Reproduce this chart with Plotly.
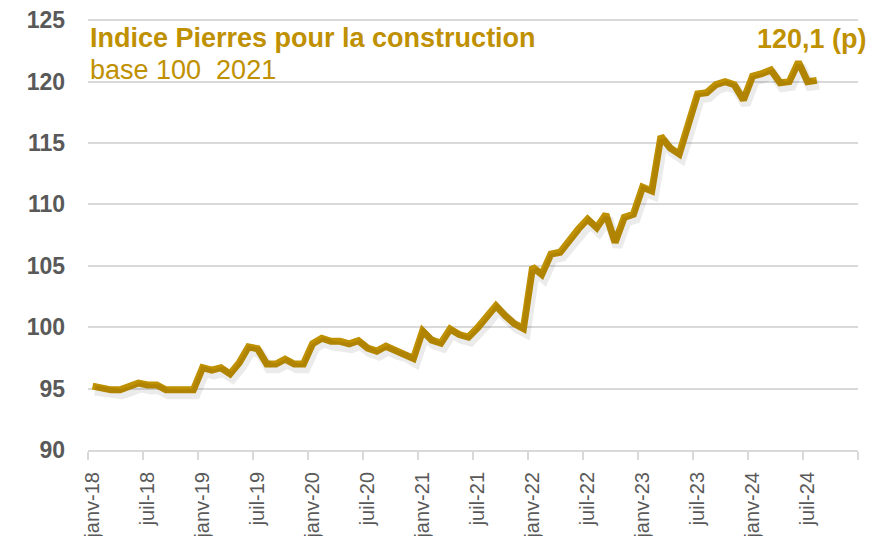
import plotly.graph_objects as go

# ---- data ----
month_names = ["janv", "févr", "mars", "avr", "mai", "juin",
               "juil", "août", "sept", "oct", "nov", "déc"]
years = ["18", "19", "20", "21", "22", "23", "24"]
all_months = [f"{m}-{y}" for y in years for m in month_names]  # janv-18 .. déc-24

index_values = [
    95.2, 95.05, 94.9, 94.9, 95.15, 95.45, 95.3, 95.3, 94.9, 94.9, 94.9, 94.9,
    96.7, 96.5, 96.7, 96.2, 97.1, 98.4, 98.25, 97.0, 97.0, 97.4, 97.0, 97.0,
    98.65, 99.1, 98.85, 98.85, 98.65, 98.9, 98.3, 98.05, 98.45, 98.1, 97.9, 97.45,
    99.7, 98.95, 98.7, 99.85, 99.4, 99.2, 99.95, 100.8, 101.75, 100.95, 100.3, 99.9,
    104.9, 104.3, 105.95, 106.1, 107.1, 108.0, 108.8, 108.1, 109.2, 106.9, 108.95, 109.2,
    111.4, 111.1, 115.55, 114.6, 114.1, 116.5, 119.0, 119.1, 119.75, 120.0, 119.75, 118.5,
    120.45, 120.65, 120.95, 119.9, 120.0, 121.6, 120.0, 120.1,
]
data_months = all_months[:len(index_values)]

tick_labels = [lab for lab in all_months if lab.startswith("janv") or lab.startswith("juil")]
y_ticks = [90, 95, 100, 105, 110, 115, 120, 125]

title_text = "Indice Pierres pour la construction"
subtitle_text = "base 100  2021"
last_label = "120,1 (p)"

GOLD = "#BF9000"
GRID = "#D9D9D9"
FONT = "Liberation Sans, Arial, sans-serif"

x_pos = [all_months.index(m) for m in data_months]
tick_pos = [all_months.index(t) for t in tick_labels]
x_range = [-0.5, len(all_months) - 0.5]
y_range = [90, 125.1]

fig = go.Figure()
# soft drop shadow drawn on slightly shifted overlay axes
fig.add_trace(go.Scatter(
    x=x_pos, y=index_values, mode="lines", xaxis="x2", yaxis="y2",
    line=dict(color="rgba(0,0,0,0.08)", width=10),
    hoverinfo="skip", showlegend=False,
))
fig.add_trace(go.Scatter(
    x=x_pos, y=index_values, mode="lines",
    line=dict(color=GOLD, width=7),
    hoverinfo="skip", showlegend=False,
))

fig.update_layout(
    width=879, height=536,
    margin=dict(l=80, r=29, t=11, b=94),
    paper_bgcolor="white", plot_bgcolor="white",
    font=dict(family=FONT),
    showlegend=False,
    xaxis2=dict(overlaying="x", range=[x_range[0] - 0.25, x_range[1] - 0.25],
                visible=False, automargin=False),
    yaxis2=dict(overlaying="y", range=[y_range[0] + 0.35, y_range[1] + 0.35],
                visible=False, automargin=False),
)

fig.update_layout(xaxis=dict(
    type="linear", automargin=False,
    range=x_range,
    tickmode="array", tickvals=tick_pos, ticktext=tick_labels,
    tickangle=-90, ticks="outside", ticklen=0,
    tickfont=dict(size=20, color="#595959", family=FONT),
    showgrid=False, zeroline=False,
    showline=True, linecolor=GRID, linewidth=2,
    minor=dict(ticks="outside", tick0=-0.5, dtick=6, ticklen=8,
               tickcolor=GRID, tickwidth=2, showgrid=False),
    ticklabelstandoff=12, ticklabeloverflow="allow",
))

fig.update_layout(yaxis=dict(
    automargin=False,
    range=y_range,
    tickmode="array", tickvals=y_ticks,
    ticktext=[str(v) for v in y_ticks],
    tickfont=dict(size=23, color="#595959", family=FONT, weight="bold"),
    showgrid=True, gridcolor=GRID, gridwidth=2,
    zeroline=False, showline=False,
    ticklabelstandoff=22, ticklabeloverflow="allow",
))

fig.add_annotation(
    text=f"<b>{title_text}</b>", xref="paper", yref="paper",
    x=0.0, y=(431 - 19) / 431, xanchor="left", yanchor="middle",
    showarrow=False, font=dict(size=27, color=GOLD),
)
fig.add_annotation(
    text=subtitle_text, xref="paper", yref="paper",
    x=0.0, y=(431 - 51) / 431, xanchor="left", yanchor="middle",
    showarrow=False, font=dict(size=27, color=GOLD),
)
fig.add_annotation(
    text=f"<b>{last_label}</b>", xref="paper", yref="paper",
    x=(869 - 88) / 770, y=(431 - 20) / 431, xanchor="right", yanchor="middle",
    showarrow=False, font=dict(size=27, color=GOLD),
)

fig.write_html("out.html")
